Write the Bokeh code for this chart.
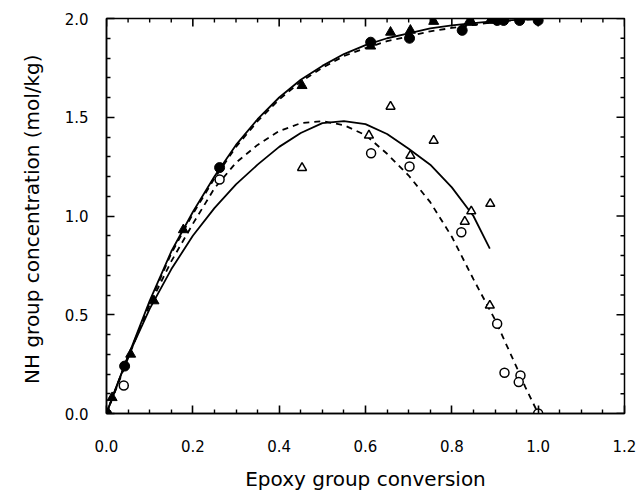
import math
from bokeh.plotting import figure
from bokeh.models import FixedTicker, PrintfTickFormatter, Range1d
from bokeh.embed import file_html
from bokeh.resources import INLINE

# Measured points: filled = upper set, open = lower set
filled_circle_x = [0.0, 0.042, 0.262, 0.612, 0.702, 0.824, 0.905, 0.920, 0.957, 1.0]
filled_circle_y = [0.0, 0.24, 1.245, 1.88, 1.90, 1.94, 1.99, 1.99, 1.99, 1.99]

filled_tri_x = [0.013, 0.056, 0.110, 0.178, 0.453, 0.612, 0.658, 0.704, 0.758, 0.840, 0.846, 0.889]
filled_tri_y = [0.08, 0.30, 0.57, 0.93, 1.66, 1.86, 1.93, 1.94, 1.985, 1.985, 1.98, 1.99]

open_circle_x = [0.040, 0.262, 0.613, 0.702, 0.822, 0.905, 0.922, 0.959, 0.955, 1.0]
open_circle_y = [0.142, 1.185, 1.318, 1.251, 0.918, 0.454, 0.206, 0.192, 0.159, 0.0]

open_tri_x = [0.453, 0.608, 0.658, 0.704, 0.758, 0.830, 0.845, 0.888, 0.889]
open_tri_y = [1.244, 1.408, 1.554, 1.306, 1.382, 0.972, 1.024, 0.547, 1.062]

# Model curves
upper_solid_x = [0.0, 0.02, 0.05, 0.1, 0.15, 0.2, 0.25, 0.3, 0.35, 0.4, 0.45, 0.5, 0.55,
                 0.6, 0.65, 0.7, 0.75, 0.8, 0.85, 0.9, 0.95, 1.0]
upper_solid_y = [0.0, 0.12, 0.29, 0.57, 0.82, 1.02, 1.20, 1.36, 1.49, 1.60, 1.69, 1.76, 1.82,
                 1.865, 1.90, 1.925, 1.95, 1.965, 1.977, 1.987, 1.993, 1.997]

upper_dash_x = [0.0, 0.05, 0.1, 0.15, 0.2, 0.25, 0.3, 0.35, 0.4, 0.45, 0.5, 0.55, 0.6,
                0.65, 0.7, 0.75, 0.8, 0.85, 0.9, 0.95, 1.0]
upper_dash_y = [0.0, 0.28, 0.56, 0.81, 1.01, 1.19, 1.35, 1.48, 1.59, 1.68, 1.75, 1.81, 1.85,
                1.885, 1.91, 1.935, 1.952, 1.968, 1.982, 1.992, 1.997]

lower_solid_x = [0.0, 0.05, 0.1, 0.15, 0.2, 0.25, 0.3, 0.35, 0.4, 0.45, 0.5, 0.55, 0.6,
                 0.65, 0.7, 0.75, 0.8, 0.85, 0.888]
lower_solid_y = [0.0, 0.29, 0.53, 0.73, 0.90, 1.04, 1.16, 1.26, 1.35, 1.42, 1.47, 1.48, 1.465,
                 1.415, 1.34, 1.26, 1.145, 1.00, 0.835]

lower_dash_x = [0.0, 0.05, 0.1, 0.15, 0.2, 0.25, 0.3, 0.35, 0.4, 0.45, 0.5, 0.55, 0.6,
                0.65, 0.7, 0.75, 0.8, 0.85, 0.9, 0.95, 0.97, 1.0]
lower_dash_y = [0.0, 0.29, 0.55, 0.77, 0.96, 1.14, 1.27, 1.36, 1.43, 1.47, 1.48, 1.46, 1.41,
                1.315, 1.205, 1.07, 0.895, 0.68, 0.475, 0.235, 0.135, 0.0]

# Tick positions
x_major = [0.0, 0.2, 0.4, 0.6, 0.8, 1.0, 1.2]
x_minor = [0.05, 0.1, 0.15, 0.25, 0.3, 0.35, 0.45, 0.5, 0.55, 0.65, 0.7, 0.75,
           0.85, 0.9, 0.95, 1.05, 1.1, 1.15]
y_major = [0.0, 0.5, 1.0, 1.5, 2.0]
y_minor = [0.1, 0.2, 0.3, 0.4, 0.6, 0.7, 0.8, 0.9, 1.1, 1.2, 1.3, 1.4,
           1.6, 1.7, 1.8, 1.9]

X_LO, X_HI = 0.0, 1.2
Y_LO, Y_HI = 0.0, 2.0
FONT = "DejaVu Sans"

p = figure(width=641, height=497, output_backend="svg", toolbar_location=None,
           x_range=Range1d(X_LO, X_HI), y_range=Range1d(Y_LO, Y_HI),
           min_border_left=106, min_border_right=17, min_border_top=18, min_border_bottom=84,
           x_axis_label="Epoxy group conversion",
           y_axis_label="NH group concentration  (mol/kg)")
p.grid.visible = False
p.outline_line_color = "black"
p.outline_line_width = 1.5
p.background_fill_color = "white"
p.border_fill_color = "white"

# Bottom and left axes carry the labels and inward ticks
for ax, major, minor in ((p.xaxis[0], x_major, x_minor), (p.yaxis[0], y_major, y_minor)):
    ax.ticker = FixedTicker(ticks=major, minor_ticks=minor)
    ax.formatter = PrintfTickFormatter(format="%.1f")
    ax.axis_line_color = "black"
    ax.axis_line_width = 1.5
    ax.major_tick_in = 8
    ax.major_tick_out = 0
    ax.minor_tick_in = 4
    ax.minor_tick_out = 0
    ax.major_tick_line_color = "black"
    ax.minor_tick_line_color = "black"
    ax.major_tick_line_width = 1.6
    ax.minor_tick_line_width = 1.4
    ax.major_label_text_font = FONT
    ax.major_label_text_font_size = "15px"
    ax.major_label_text_color = "black"
    ax.axis_label_text_font = FONT
    ax.axis_label_text_font_size = "20px"
    ax.axis_label_text_font_style = "normal"
    ax.axis_label_text_color = "black"

p.xaxis[0].major_label_standoff = 26
p.xaxis[0].axis_label_standoff = 12
p.yaxis[0].major_label_standoff = 18
p.yaxis[0].axis_label_standoff = 18


# Inward tick marks on the top and right frame edges, as short screen-length rays
def edge_ticks(positions, length, width, along_x):
    n = len(positions)
    if along_x:
        p.ray(positions, [Y_HI] * n, length=length, length_units="screen",
              angle=-math.pi / 2, line_color="black", line_width=width)
    else:
        p.ray([X_HI] * n, positions, length=length, length_units="screen",
              angle=math.pi, line_color="black", line_width=width)


edge_ticks(x_major, 8, 1.6, True)
edge_ticks(x_minor, 4, 1.4, True)
edge_ticks(y_major, 8, 1.6, False)
edge_ticks(y_minor, 4, 1.4, False)

# curves
p.line(upper_solid_x, upper_solid_y, line_color="black", line_width=1.8)
p.line(upper_dash_x, upper_dash_y, line_color="black", line_width=1.8, line_dash="6 5")
p.line(lower_solid_x, lower_solid_y, line_color="black", line_width=1.8)
p.line(lower_dash_x, lower_dash_y, line_color="black", line_width=1.8, line_dash="6 5")

# points
p.scatter(open_circle_x, open_circle_y, marker="circle", size=9,
          fill_color="white", line_color="black", line_width=1.5)
p.scatter(open_tri_x, open_tri_y, marker="triangle", size=9,
          fill_color="white", line_color="black", line_width=1.5)
p.scatter(filled_circle_x, filled_circle_y, marker="circle", size=10,
          fill_color="black", line_color="black")
p.scatter(filled_tri_x, filled_tri_y, marker="triangle", size=10,
          fill_color="black", line_color="black")

open("out.html", "w").write(file_html(p, INLINE))
